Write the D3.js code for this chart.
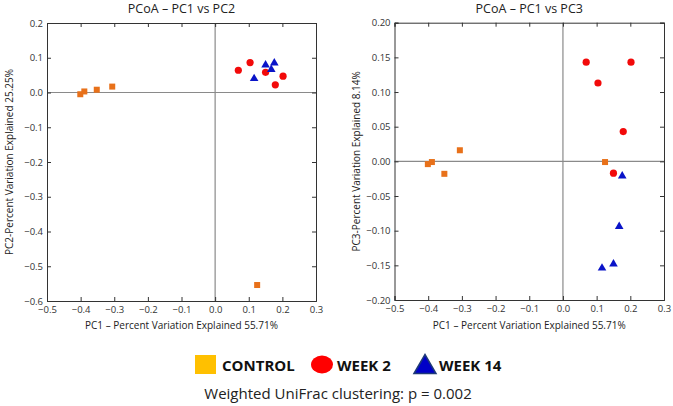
<!DOCTYPE html>
<html><head><meta charset="utf-8">
<script src="https://cdn.jsdelivr.net/npm/d3@7"></script>
<style>body{margin:0;background:#fff}svg{display:block}</style>
</head><body>
<script>
// Data
const groups = ["CONTROL", "WEEK 2", "WEEK 14"];
const controlPC1 = [-0.401, -0.389, -0.352, -0.306, 0.125];
const controlPC2 = [-0.005, 0.003, 0.008, 0.017, -0.554];
const controlPC3 = [-0.004, -0.001, -0.018, 0.016, -0.001];
const week2PC1 = [0.069, 0.104, 0.150, 0.179, 0.202];
const week2PC2 = [0.064, 0.086, 0.058, 0.022, 0.047];
const week2PC3 = [0.143, 0.113, -0.017, 0.043, 0.143];
const week14PC1 = [0.116, 0.150, 0.167, 0.176];
const week14PC2 = [0.040, 0.079, 0.066, 0.085];
const week14PC3 = [-0.154, -0.148, -0.094, -0.021];
const xTicks = [-0.5, -0.4, -0.3, -0.2, -0.1, 0.0, 0.1, 0.2, 0.3];
const y2Ticks = [-0.6, -0.5, -0.4, -0.3, -0.2, -0.1, 0.0, 0.1, 0.2];
const y3Ticks = [-0.20, -0.15, -0.10, -0.05, 0.00, 0.05, 0.10, 0.15, 0.20];
const titles = ["PCoA \u2013 PC1 vs PC2", "PCoA \u2013 PC1 vs PC3"];
const xLabel = "PC1 \u2013 Percent Variation Explained 55.71%";
const yLabels = ["PC2-Percent Variation Explained 25.25%", "PC3-Percent Variation Explained 8.14%"];
const caption = "Weighted UniFrac clustering: p = 0.002";

const W = 673, H = 406;
const svg = d3.select("body").append("svg").attr("width", W).attr("height", H);
const FONT = "'Open Sans', 'Noto Sans', sans-serif";

const colCtrl = "#E8711A", colW2 = "#F20A0A", colW14 = "#0A14C8";

function fmt(d, dec) {
  const s = Math.abs(d).toFixed(dec);
  return (d < 0 ? "\u2212" : "") + s;
}

function panel(opts) {
  const {x0, x1, y0, y1, yDomain, yTicks, yDec, title, yLabel, yLabelX, data} = opts;
  const xs = d3.scaleLinear().domain([-0.5, 0.3]).range([x0, x1]);
  const ys = d3.scaleLinear().domain(yDomain).range([y1, y0]);
  const g = svg.append("g");
  // zero lines
  g.append("line").attr("x1", xs(0)).attr("x2", xs(0)).attr("y1", y0).attr("y2", y1)
    .attr("stroke", "#8a8a8a").attr("stroke-width", 1.2);
  g.append("line").attr("x1", x0).attr("x2", x1).attr("y1", ys(0)).attr("y2", ys(0))
    .attr("stroke", "#8a8a8a").attr("stroke-width", 1.2);
  // axes
  const tl = 4;
  const bottom = g.append("g").attr("transform", `translate(0,${y1})`)
    .call(d3.axisBottom(xs).tickValues(xTicks).tickSize(-tl).tickPadding(5).tickFormat(d => fmt(d, 1)));
  const top = g.append("g").attr("transform", `translate(0,${y0})`)
    .call(d3.axisTop(xs).tickValues(xTicks).tickSize(-tl).tickFormat(""));
  const left = g.append("g").attr("transform", `translate(${x0},0)`)
    .call(d3.axisLeft(ys).tickValues(yTicks).tickSize(-tl).tickPadding(4).tickFormat(d => fmt(d, yDec)));
  const right = g.append("g").attr("transform", `translate(${x1},0)`)
    .call(d3.axisRight(ys).tickValues(yTicks).tickSize(-tl).tickFormat(""));
  [bottom, top, left, right].forEach(a => {
    a.select(".domain").attr("stroke", "#333").attr("stroke-width", 1);
    a.selectAll(".tick line").attr("stroke", "#333");
    a.selectAll("text").attr("font-family", FONT).attr("font-size", 9.5).attr("fill", "#333");
  });
  // points
  const sq = 6;
  g.selectAll(".ctrl").data(data.ctrl).enter().append("rect")
    .attr("x", d => xs(d[0]) - sq / 2).attr("y", d => ys(d[1]) - sq / 2)
    .attr("width", sq).attr("height", sq).attr("fill", colCtrl);
  g.selectAll(".w2").data(data.w2).enter().append("circle")
    .attr("cx", d => xs(d[0])).attr("cy", d => ys(d[1])).attr("r", 3.6).attr("fill", colW2);
  const tri = d3.symbol().type(d3.symbolTriangle).size(32);
  g.selectAll(".w14").data(data.w14).enter().append("path")
    .attr("d", tri).attr("transform", d => `translate(${xs(d[0])},${ys(d[1])})`).attr("fill", colW14);
  // title
  g.append("text").attr("x", (x0 + x1) / 2).attr("y", 13).attr("text-anchor", "middle")
    .attr("font-family", FONT).attr("font-size", 12.5).attr("fill", "#222").text(title);
  g.append("text").attr("x", (x0 + x1) / 2).attr("y", 329).attr("text-anchor", "middle")
    .attr("font-family", FONT).attr("font-size", 10).attr("fill", "#222").text(xLabel);
  g.append("text").attr("transform", `translate(${yLabelX},${(y0 + y1) / 2}) rotate(-90)`)
    .attr("text-anchor", "middle").attr("font-family", FONT).attr("font-size", 10).attr("fill", "#222").text(yLabel);
}

const zip = (a, b) => a.map((v, i) => [v, b[i]]);

panel({x0: 47, x1: 316, y0: 23, y1: 301, yDomain: [-0.6, 0.2], yTicks: y2Ticks, yDec: 1,
  title: titles[0], yLabel: yLabels[0], yLabelX: 13,
  data: {ctrl: zip(controlPC1, controlPC2), w2: zip(week2PC1, week2PC2), w14: zip(week14PC1, week14PC2)}});
panel({x0: 394.5, x1: 664, y0: 22.7, y1: 300, yDomain: [-0.2, 0.2], yTicks: y3Ticks, yDec: 2,
  title: titles[1], yLabel: yLabels[1], yLabelX: 360,
  data: {ctrl: zip(controlPC1, controlPC3), w2: zip(week2PC1, week2PC3), w14: zip(week14PC1, week14PC3)}});

// Legend
const lg = svg.append("g");
const legendX = [195, 311, 414];
const textX = [222, 337, 439];
const ly = 364.5;
lg.append("rect").attr("x", legendX[0]).attr("y", ly - 9.5).attr("width", 21).attr("height", 19).attr("fill", "#FFC000");
lg.append("ellipse").attr("cx", legendX[1] + 11).attr("cy", ly).attr("rx", 11).attr("ry", 9).attr("fill", "#FF0000");
lg.append("path").attr("d", `M${legendX[2]},${ly + 9} L${legendX[2] + 11},${ly - 10} L${legendX[2] + 22},${ly + 9} Z`)
  .attr("fill", "#0000C8").attr("stroke", "#1F3A78").attr("stroke-width", 1.5).attr("stroke-linejoin", "miter");
groups.forEach((gname, i) => {
  lg.append("text").attr("x", textX[i]).attr("y", ly + 6).attr("font-family", FONT)
    .attr("font-weight", "bold").attr("font-size", 15).attr("fill", "#111").text(gname);
});
svg.append("text").attr("x", 338).attr("y", 399).attr("text-anchor", "middle")
  .attr("font-family", FONT).attr("font-size", 15).attr("fill", "#222").text(caption);
</script>
</body></html>
